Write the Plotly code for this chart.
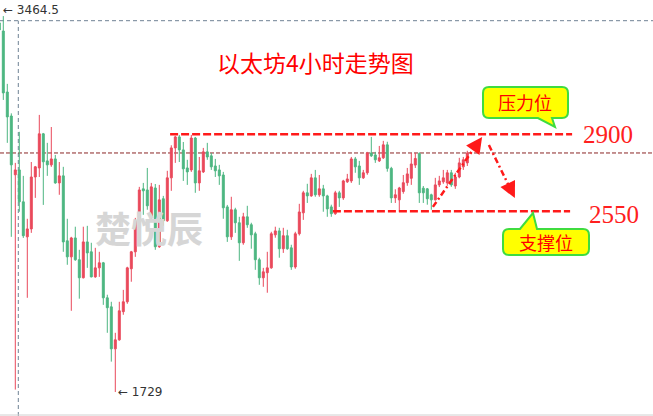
import plotly.graph_objects as go

W, H = 653, 416

# ---- candle data (ETH 4h) ----
opens = [3406, 3369, 3092, 2983, 2716, 2738, 2593, 2434, 2470, 2706,
         2747, 2902, 2779, 2761, 2788, 2679, 2711, 2416, 2343, 2429,
         2330, 2248, 2411, 2366, 2252, 2293, 2316, 2157, 2116, 1925,
         1966, 2094, 2139, 2289, 2366, 2502, 2652, 2647, 2520, 2656,
         2389, 2607, 2507, 2702, 2838, 2888, 2829, 2747, 2738, 2883,
         2679, 2729, 2820, 2802, 2756, 2738, 2715, 2570, 2434, 2557,
         2498, 2407, 2525, 2489, 2448, 2330, 2248, 2271, 2293, 2443,
         2461, 2380, 2439, 2384, 2297, 2448, 2543, 2634, 2620, 2702,
         2625, 2652, 2620, 2570, 2539, 2634, 2611, 2684, 2688, 2788,
         2756, 2702, 2725, 2815, 2806, 2779, 2793, 2852, 2745, 2611,
         2602, 2640, 2680, 2700, 2760, 2812, 2655, 2652, 2625, 2602,
         2670, 2684, 2679, 2725, 2665, 2706, 2752, 2770]
highs = [3464.5, 3437, 3129, 2995, 2770, 2911, 2711, 2516, 2774, 2756,
         2988, 2906, 2861, 2933, 2806, 2774, 2752, 2516, 2434, 2480,
         2375, 2480, 2484, 2407, 2384, 2366, 2320, 2171, 2139, 1998,
         2139, 2193, 2298, 2370, 2520, 2661, 2679, 2747, 2679, 2674,
         2670, 2620, 2734, 2850, 2893, 2897, 2865, 2784, 2897, 2888,
         2797, 2838, 2861, 2815, 2788, 2761, 2729, 2579, 2616, 2566,
         2525, 2543, 2575, 2498, 2457, 2339, 2293, 2366, 2457, 2480,
         2475, 2475, 2466, 2398, 2457, 2584, 2643, 2675, 2720, 2738,
         2715, 2670, 2625, 2580, 2643, 2643, 2693, 2720, 2797, 2797,
         2779, 2738, 2820, 2888, 2820, 2847, 2870, 2866, 2752, 2650,
         2661, 2715, 2747, 2815, 2815, 2818, 2665, 2656, 2630, 2702,
         2711, 2738, 2738, 2738, 2725, 2793, 2797, 2825]
lows = [3370, 3056, 2861, 2434, 1740, 2548, 2429, 2157, 2452, 2611,
        2706, 2579, 2711, 2752, 2675, 2625, 2366, 2307, 2098, 2325,
        2153, 2245, 2293, 2250, 2248, 2252, 2125, 1998, 1867, 1729,
        1962, 2080, 2130, 2230, 2343, 2489, 2534, 2557, 2511, 2375,
        2384, 2484, 2502, 2643, 2770, 2774, 2688, 2670, 2729, 2634,
        2643, 2724, 2784, 2738, 2706, 2670, 2516, 2411, 2420, 2452,
        2325, 2398, 2475, 2380, 2284, 2216, 2207, 2180, 2289, 2430,
        2339, 2361, 2375, 2284, 2289, 2440, 2511, 2588, 2616, 2616,
        2616, 2548, 2525, 2525, 2534, 2570, 2602, 2679, 2679, 2725,
        2670, 2697, 2716, 2797, 2770, 2774, 2788, 2730, 2588, 2588,
        2548, 2630, 2666, 2670, 2747, 2588, 2588, 2580, 2557, 2599,
        2660, 2675, 2666, 2661, 2652, 2700, 2738, 2756]
closes = [3374, 3088, 2979, 2761, 2738, 2593, 2439, 2470, 2706, 2752,
          2902, 2775, 2761, 2788, 2679, 2711, 2411, 2343, 2429, 2330,
          2248, 2411, 2361, 2252, 2293, 2316, 2157, 2112, 1925, 1966,
          2098, 2139, 2293, 2366, 2507, 2647, 2643, 2575, 2661, 2389,
          2602, 2507, 2702, 2838, 2888, 2829, 2743, 2729, 2883, 2679,
          2734, 2820, 2797, 2752, 2734, 2711, 2566, 2434, 2557, 2498,
          2407, 2525, 2489, 2443, 2330, 2248, 2275, 2293, 2448, 2461,
          2380, 2439, 2380, 2297, 2448, 2547, 2634, 2620, 2702, 2625,
          2652, 2620, 2561, 2539, 2634, 2611, 2688, 2697, 2788, 2752,
          2702, 2725, 2815, 2802, 2784, 2793, 2852, 2745, 2611, 2625,
          2656, 2680, 2720, 2765, 2790, 2634, 2634, 2607, 2602, 2670,
          2688, 2702, 2725, 2670, 2706, 2770, 2784, 2815]
candle_idx = list(range(len(opens)))

# ---- reference levels / labels ----
Y_RANGE = [1620, 3510]
X_RANGE = [0.175, 163.425]
RESIST, SUPPORT = 2900, 2550
RESIST_SPAN = [42.7, 143.2]
SUPPORT_SPAN = [83.4, 142.7]
LAST_PRICE = 2815
CROSS_PRICE, CROSS_IDX = 3416, 4.75
HIGH_IDX, HIGH_VAL = 0, 3464.5
LOW_IDX, LOW_VAL = 29, 1729
ARROW_UP = [(108.4, 2570), (120.7, 2888)]
ARROW_DOWN = [(122.4, 2851), (128.9, 2610)]
TITLE = "以太坊4小时走势图"
WATERMARK = "楚悦辰"
WM_POS = (37.4, 2447)

RED = "#e9495b"
GREEN = "#4db681"
LINE_RED = "#ff1a1a"


def px(x):
    return x / W


def py(y):
    return 1 - y / H


def callout_path(x0, y0, x1, y1, r, tail, side):
    if side == "top":
        seg = f"M{px(x0+r)},{py(y0)} "
        for (tx, ty) in tail:
            seg += f"L{px(tx)},{py(ty)} "
        seg += (f"L{px(x1-r)},{py(y0)} Q{px(x1)},{py(y0)} {px(x1)},{py(y0+r)} "
                f"L{px(x1)},{py(y1-r)} Q{px(x1)},{py(y1)} {px(x1-r)},{py(y1)} "
                f"L{px(x0+r)},{py(y1)} Q{px(x0)},{py(y1)} {px(x0)},{py(y1-r)} "
                f"L{px(x0)},{py(y0+r)} Q{px(x0)},{py(y0)} {px(x0+r)},{py(y0)} Z")
        return seg
    seg = (f"M{px(x0+r)},{py(y0)} L{px(x1-r)},{py(y0)} Q{px(x1)},{py(y0)} {px(x1)},{py(y0+r)} "
           f"L{px(x1)},{py(y1-r)} Q{px(x1)},{py(y1)} {px(x1-r)},{py(y1)} ")
    for (tx, ty) in tail:
        seg += f"L{px(tx)},{py(ty)} "
    seg += (f"L{px(x0+r)},{py(y1)} Q{px(x0)},{py(y1)} {px(x0)},{py(y1-r)} "
            f"L{px(x0)},{py(y0+r)} Q{px(x0)},{py(y0)} {px(x0+r)},{py(y0)} Z")
    return seg


fig = go.Figure()

# watermark below candles
fig.add_trace(go.Scatter(
    x=[WM_POS[0]], y=[WM_POS[1]], mode="text", text=[WATERMARK],
    textfont=dict(family="Noto Sans CJK SC", size=36, color="#d6d6d6", weight="bold"),
    hoverinfo="skip", showlegend=False))

fig.add_trace(go.Candlestick(
    x=candle_idx, open=opens, high=highs, low=lows, close=closes,
    increasing=dict(line=dict(color=RED, width=1), fillcolor=RED),
    decreasing=dict(line=dict(color=GREEN, width=1), fillcolor=GREEN),
    whiskerwidth=0, hoverinfo="skip", showlegend=False))

shapes = []
shapes.append(dict(type="line", xref="paper", yref="y", x0=0, x1=1, y0=CROSS_PRICE, y1=CROSS_PRICE,
                   line=dict(color="#6f8294", width=1, dash="4px,3px"), layer="below"))
shapes.append(dict(type="line", xref="x", yref="paper", x0=CROSS_IDX, x1=CROSS_IDX, y0=0, y1=py(20.7),
                   line=dict(color="#6f8294", width=1, dash="4px,3px"), layer="below"))
shapes.append(dict(type="line", xref="paper", yref="y", x0=0, x1=1, y0=LAST_PRICE, y1=LAST_PRICE,
                   line=dict(color="#8b2525", width=1, dash="4px,2px"), layer="below"))
shapes.append(dict(type="line", xref="x", yref="y", x0=RESIST_SPAN[0], x1=RESIST_SPAN[1], y0=RESIST, y1=RESIST,
                   line=dict(color=LINE_RED, width=2.5, dash="8px,3px")))
shapes.append(dict(type="line", xref="x", yref="y", x0=SUPPORT_SPAN[0], x1=SUPPORT_SPAN[1], y0=SUPPORT, y1=SUPPORT,
                   line=dict(color=LINE_RED, width=2.5, dash="8px,3px")))
for (s, t) in (ARROW_UP, ARROW_DOWN):
    ex = s[0] + (t[0] - s[0]) * 0.88
    ey = s[1] + (t[1] - s[1]) * 0.88
    shapes.append(dict(type="line", xref="x", yref="y", x0=s[0], y0=s[1], x1=ex, y1=ey,
                       line=dict(color=LINE_RED, width=2.5, dash="6px,3px,2px,3px")))
shapes.append(dict(type="line", xref="paper", yref="paper", x0=0, x1=1, y0=py(415), y1=py(415),
                   line=dict(color="#d0d0d0", width=1)))
shapes.append(dict(type="path", xref="paper", yref="paper",
                   path=callout_path(483, 87, 568, 118, 6, [(552, 118), (555, 127), (538, 118)], "bottom"),
                   fillcolor="#ffff00", line=dict(color="#3fdc3f", width=2)))
shapes.append(dict(type="path", xref="paper", yref="paper",
                   path=callout_path(503, 229, 589, 255, 6, [(520, 229), (533, 213), (537, 229)], "top"),
                   fillcolor="#ffff00", line=dict(color="#3fdc3f", width=2)))

annotations = []
annotations.append(dict(xref="paper", yref="paper", x=px(315), y=py(62), text=TITLE, showarrow=False,
                        font=dict(family="Noto Sans CJK SC", size=23, color="#ff0000"),
                        xanchor="center", yanchor="middle"))
annotations.append(dict(xref="paper", yref="y", x=px(1), y=HIGH_VAL, text="← " + str(HIGH_VAL), showarrow=False,
                        xanchor="left", yanchor="middle",
                        font=dict(family="DejaVu Sans", size=12, color="#333333")))
annotations.append(dict(xref="x", yref="y", x=LOW_IDX, y=LOW_VAL, text="← " + str(LOW_VAL), showarrow=False,
                        xanchor="left", yanchor="middle", xshift=1,
                        font=dict(family="DejaVu Sans", size=12, color="#333333")))
annotations.append(dict(xref="paper", yref="y", x=px(581), y=RESIST, text=str(RESIST), showarrow=False,
                        xanchor="left", yanchor="middle",
                        font=dict(family="Liberation Serif", size=25, color="#ff2020")))
annotations.append(dict(xref="paper", yref="y", x=px(587), y=SUPPORT, text=str(SUPPORT), showarrow=False,
                        xanchor="left", yanchor="middle", yshift=-3,
                        font=dict(family="Liberation Serif", size=25, color="#ff2020")))
annotations.append(dict(xref="paper", yref="paper", x=px(525), y=py(102), text="压力位", showarrow=False,
                        xanchor="center", yanchor="middle",
                        font=dict(family="Noto Sans CJK SC", size=18, color="#ff0000")))
annotations.append(dict(xref="paper", yref="paper", x=px(546), y=py(242), text="支撑位", showarrow=False,
                        xanchor="center", yanchor="middle",
                        font=dict(family="Noto Sans CJK SC", size=18, color="#ff0000")))
for (s, t), (ax, ay) in ((ARROW_UP, (-8, 11.5)), (ARROW_DOWN, (-6.2, -12.6))):
    annotations.append(dict(xref="x", yref="y", x=t[0], y=t[1], ax=ax, ay=ay, text="",
                            showarrow=True, arrowhead=2, arrowsize=1.3, arrowwidth=2.5,
                            arrowcolor=LINE_RED, standoff=0))

fig.update_layout(
    width=W, height=H, margin=dict(l=0, r=0, t=0, b=0),
    paper_bgcolor="white", plot_bgcolor="white",
    showlegend=False, shapes=shapes, annotations=annotations,
    xaxis=dict(range=X_RANGE, visible=False, rangeslider=dict(visible=False), fixedrange=True),
    yaxis=dict(range=Y_RANGE, visible=False, fixedrange=True),
)

fig.write_html("out.html", config={"displayModeBar": False},
               post_script="document.body.style.margin='0';document.body.style.padding='0';")
